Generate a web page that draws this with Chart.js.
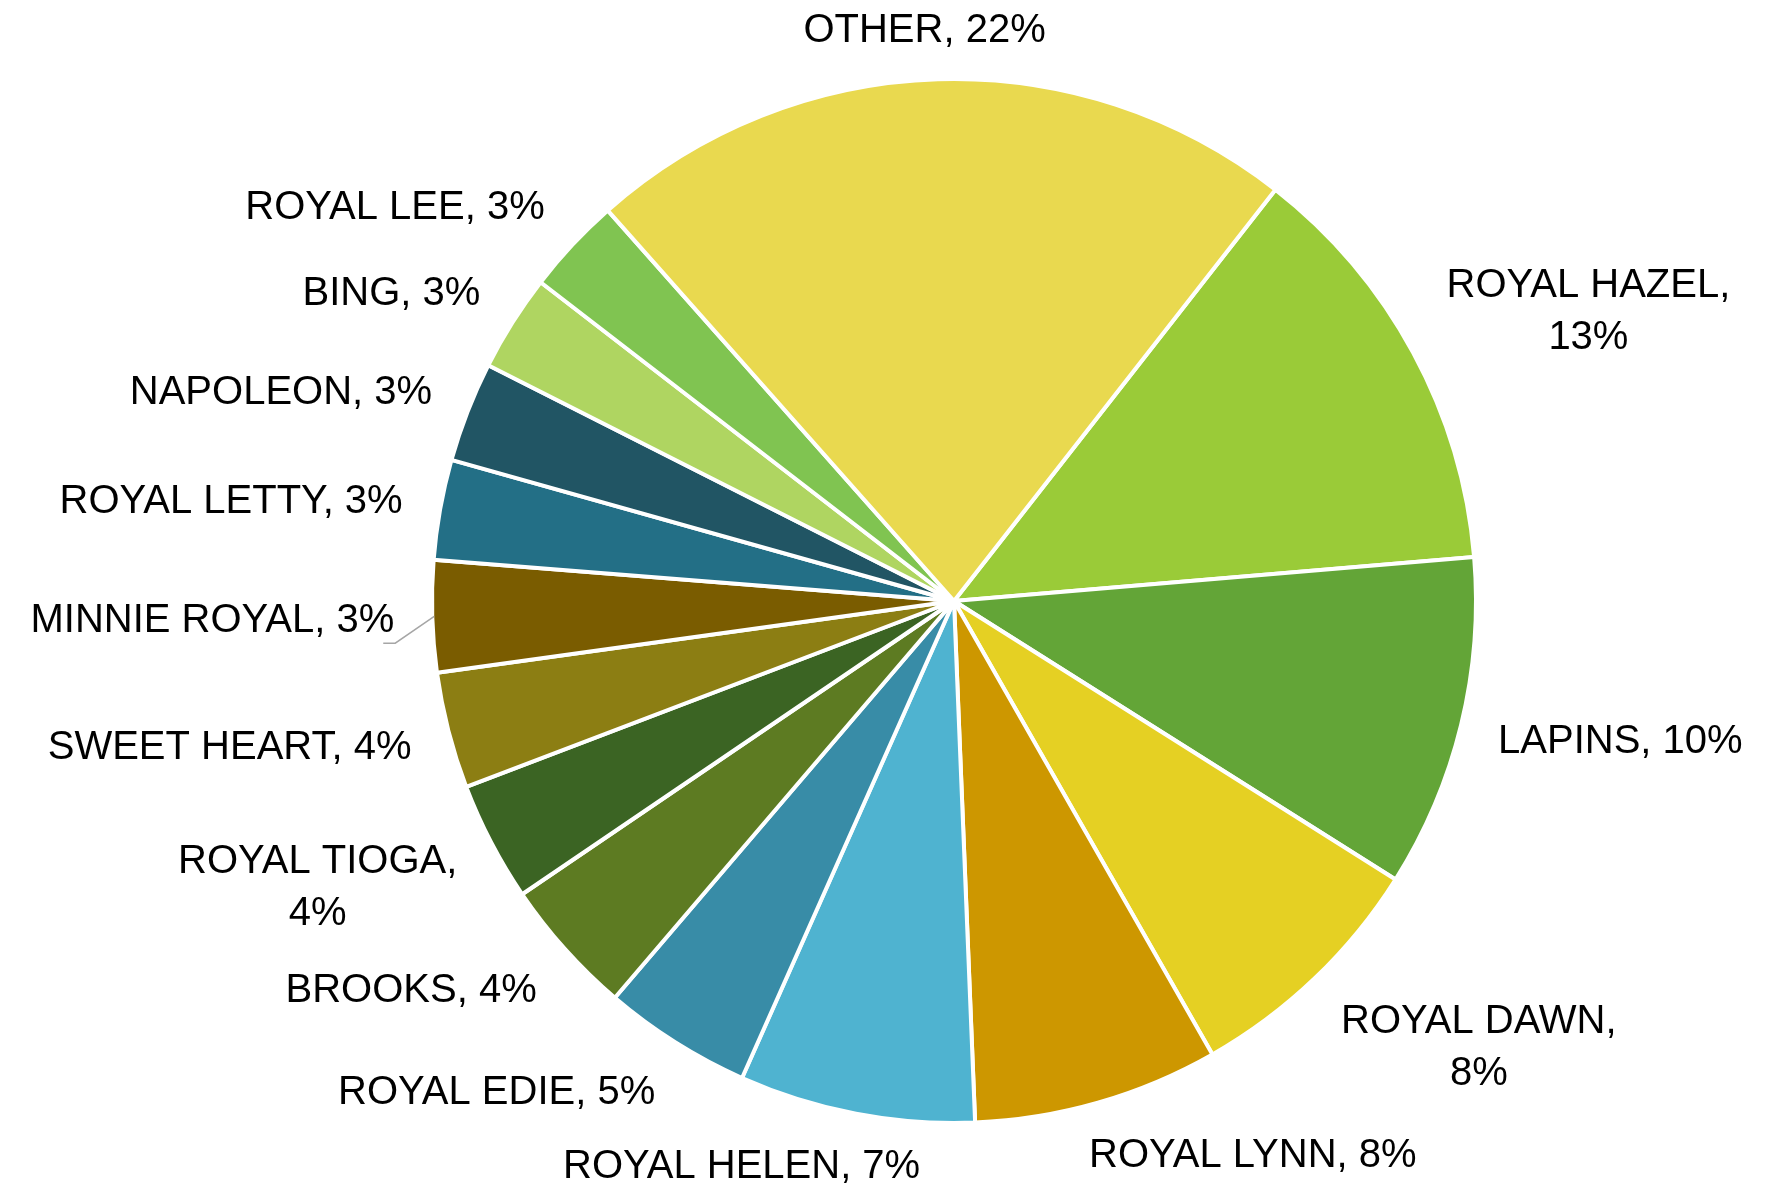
<!DOCTYPE html>
<html>
<head>
<meta charset="utf-8">
<title>Cherry varieties share</title>
<script src="https://cdn.jsdelivr.net/npm/chart.js@4.4.1/dist/chart.umd.min.js"></script>
<style>
  html, body { margin: 0; padding: 0; background: #fff; }
  #wrap { width: 1768px; height: 1186px; position: relative; }
</style>
</head>
<body>
<div id="wrap"><canvas id="shareChart"></canvas></div>
<script>
// slice order runs clockwise, starting at the ROYAL HAZEL edge
const categories = ["ROYAL HAZEL", "LAPINS", "ROYAL DAWN", "ROYAL LYNN", "ROYAL HELEN",
    "ROYAL EDIE", "BROOKS", "ROYAL TIOGA", "SWEET HEART", "MINNIE ROYAL",
    "ROYAL LETTY", "NAPOLEON", "BING", "ROYAL LEE", "OTHER"];
const shares = [13.1, 10.3, 7.8, 7.6, 7.3, 4.6, 4.25, 3.7, 3.6, 3.45, 3.1, 3.1, 3.0, 3.0, 22.1];
const sliceColors = ["#9ACB38", "#63A537", "#E5D023", "#CD9700", "#4FB3D0",
    "#388CA7", "#5D7B22", "#3B6423", "#8C7E13", "#7A5C00",
    "#236F86", "#215564", "#AFD561", "#80C451", "#E9D94F"];
// labels broken after the comma, and labels with a leader line
const wrappedLabels = ["ROYAL HAZEL", "ROYAL DAWN", "ROYAL TIOGA"];
const leaderLabels = ["MINNIE ROYAL"];

function clamp(v, lo, hi) { return Math.max(lo, Math.min(hi, v)); }

// outside-end labels, roughly the way the spreadsheet places them
const outsideLabels = {
    id: "outsideLabels",
    afterDatasetsDraw(chart, args, opts) {
        const ctx = chart.ctx;
        const meta = chart.getDatasetMeta(0);
        const total = shares.reduce((a, b) => a + b, 0);
        ctx.save();
        ctx.font = opts.font;
        ctx.fillStyle = "#000";
        ctx.textAlign = "center";
        ctx.textBaseline = "middle";
        meta.data.forEach((arc, i) => {
            const p = arc.getProps(["x", "y", "startAngle", "endAngle", "outerRadius"], true);
            const mid = (p.startAngle + p.endAngle) / 2;
            const s = Math.cos(mid);    // horizontal component
            const c = -Math.sin(mid);   // upward component
            const name = categories[i];
            const pct = Math.round(shares[i] / total * 100) + "%";
            const lines = wrappedLabels.includes(name) ? [name + ",", pct] : [name + ", " + pct];
            const w = Math.max(...lines.map(l => ctx.measureText(l).width));
            const h = lines.length * opts.lineHeight;
            const ax = p.x + (p.outerRadius + opts.gapX) * s;
            const ay = p.y - (p.outerRadius + opts.gapY) * c + opts.shiftY;
            const bx = ax + clamp(3.2 * s, -1, 1) * w / 2;
            const by = ay + clamp(-1.3 * c, -1, 1) * h / 2;
            lines.forEach((l, k) => {
                ctx.fillText(l, bx, by - h / 2 + opts.lineHeight * (k + 0.5));
            });
            if (leaderLabels.includes(name)) {
                const r = p.outerRadius - 2;
                const edge = s < 0 ? bx + w / 2 : bx - w / 2;
                const dir = s < 0 ? -1 : 1;
                ctx.strokeStyle = "#A6A6A6";
                ctx.lineWidth = 1.5;
                ctx.beginPath();
                ctx.moveTo(p.x + r * s, p.y - r * c);
                ctx.lineTo(edge - dir, by + 22);
                ctx.lineTo(edge + dir * 11, by + 22);
                ctx.stroke();
            }
        });
        ctx.restore();
    }
};

document.addEventListener("DOMContentLoaded", function() {
    const canvas = document.getElementById("shareChart");
    new Chart(canvas.getContext("2d"), {
        type: "pie",
        data: {
            labels: categories,
            datasets: [{
                data: shares,
                backgroundColor: sliceColors,
                borderColor: "#ffffff",
                borderWidth: 4
            }]
        },
        options: {
            responsive: true,
            maintainAspectRatio: false,
            animation: false,
            rotation: 38,
            radius: 522,
            layout: { padding: { top: 80, bottom: 64, left: 300, right: 160 } },
            plugins: {
                legend: { display: false },
                tooltip: { enabled: false },
                outsideLabels: {
                    font: "40px 'Liberation Sans', Arial, sans-serif",
                    lineHeight: 52,
                    gapX: 38,
                    gapY: 25,
                    shiftY: 3
                }
            }
        },
        plugins: [outsideLabels]
    });
});
</script>
</body>
</html>
